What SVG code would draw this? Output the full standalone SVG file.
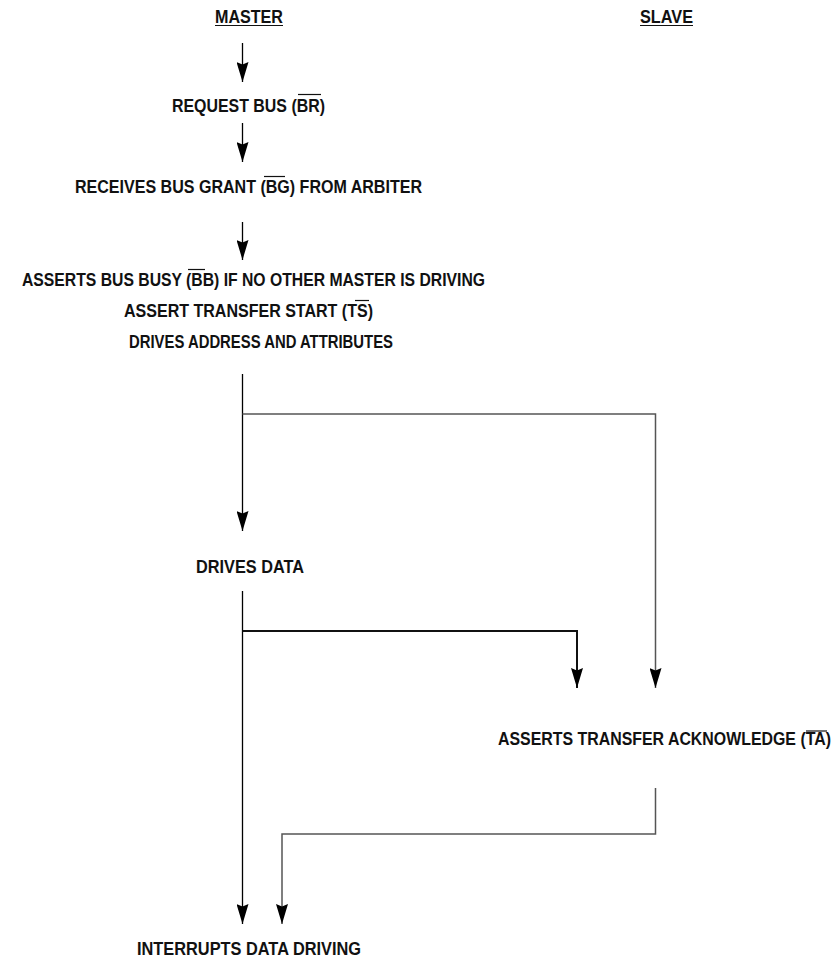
<svg xmlns="http://www.w3.org/2000/svg" width="839" height="960" viewBox="0 0 839 960">
<style>
text{font-family:"Liberation Sans",Arial,sans-serif;font-weight:bold;font-size:19px;fill:#111;}
.dec{stroke:#111;stroke-width:1.2;fill:none;}
.c{stroke:#000;stroke-width:1.3;fill:none;}
.g{stroke:#555;stroke-width:1.5;fill:none;}
.t{stroke:#111;stroke-width:2;fill:none;}
</style>
<defs>
<marker id="ah" markerUnits="userSpaceOnUse" markerWidth="20" markerHeight="12" refX="20" refY="6" orient="auto" viewBox="0 0 20 12">
<path d="M0,0 L2.5,6 L0,12 L20,6 Z" fill="#000"/>
</marker>
</defs>
<rect width="839" height="960" fill="#fff"/>
<g id="master">
<text x="215" y="23" textLength="68" lengthAdjust="spacingAndGlyphs">MASTER</text>
<line class="dec" x1="215" y1="25.5" x2="283" y2="25.5"/>
</g>
<g id="slave">
<text x="640" y="23" textLength="53" lengthAdjust="spacingAndGlyphs">SLAVE</text>
<line class="dec" x1="640" y1="25.5" x2="693" y2="25.5"/>
</g>
<g id="request">
<text x="172" y="111.5" textLength="153" lengthAdjust="spacingAndGlyphs">REQUEST BUS (BR)</text>
<line class="dec" x1="298" y1="94.5" x2="321" y2="94.5"/>
</g>
<g id="grant">
<text x="75" y="193" textLength="347" lengthAdjust="spacingAndGlyphs">RECEIVES BUS GRANT (BG) FROM ARBITER</text>
<line class="dec" x1="264" y1="176.5" x2="285" y2="176.5"/>
</g>
<g id="asserts">
<text x="22" y="286" textLength="463" lengthAdjust="spacingAndGlyphs">ASSERTS BUS BUSY (BB) IF NO OTHER MASTER IS DRIVING</text>
<line class="dec" x1="188" y1="269.5" x2="205" y2="269.5"/>
<text x="124" y="317" textLength="249" lengthAdjust="spacingAndGlyphs">ASSERT TRANSFER START (TS)</text>
<line class="dec" x1="355" y1="300.5" x2="369" y2="300.5"/>
<text x="129" y="348" textLength="264" lengthAdjust="spacingAndGlyphs">DRIVES ADDRESS AND ATTRIBUTES</text>
</g>
<g id="drivesdata">
<text x="196" y="573" textLength="108" lengthAdjust="spacingAndGlyphs">DRIVES DATA</text>
</g>
<g id="ack">
<text x="498" y="745" textLength="333" lengthAdjust="spacingAndGlyphs">ASSERTS TRANSFER ACKNOWLEDGE (TA)</text>
<line class="dec" x1="806" y1="731" x2="827" y2="731"/>
</g>
<g id="interrupts">
<text x="137" y="955" textLength="224" lengthAdjust="spacingAndGlyphs">INTERRUPTS DATA DRIVING</text>
</g>
<g id="connectors">
<line class="c" x1="242.5" y1="43" x2="242.5" y2="82" marker-end="url(#ah)"/>
<line class="c" x1="242.5" y1="123" x2="242.5" y2="162" marker-end="url(#ah)"/>
<line class="c" x1="242.5" y1="222" x2="242.5" y2="260" marker-end="url(#ah)"/>
<line class="c" x1="242.5" y1="374" x2="242.5" y2="531" marker-end="url(#ah)"/>
<polyline class="g" points="242.5,414 655.5,414 655.5,688" marker-end="url(#ah)"/>
<line class="c" x1="242.5" y1="591" x2="242.5" y2="924" marker-end="url(#ah)"/>
<polyline class="t" points="242.5,631 577,631 577,688" marker-end="url(#ah)"/>
<polyline class="g" points="655.5,788 655.5,834 282,834 282,924" marker-end="url(#ah)"/>
</g>
</svg>
